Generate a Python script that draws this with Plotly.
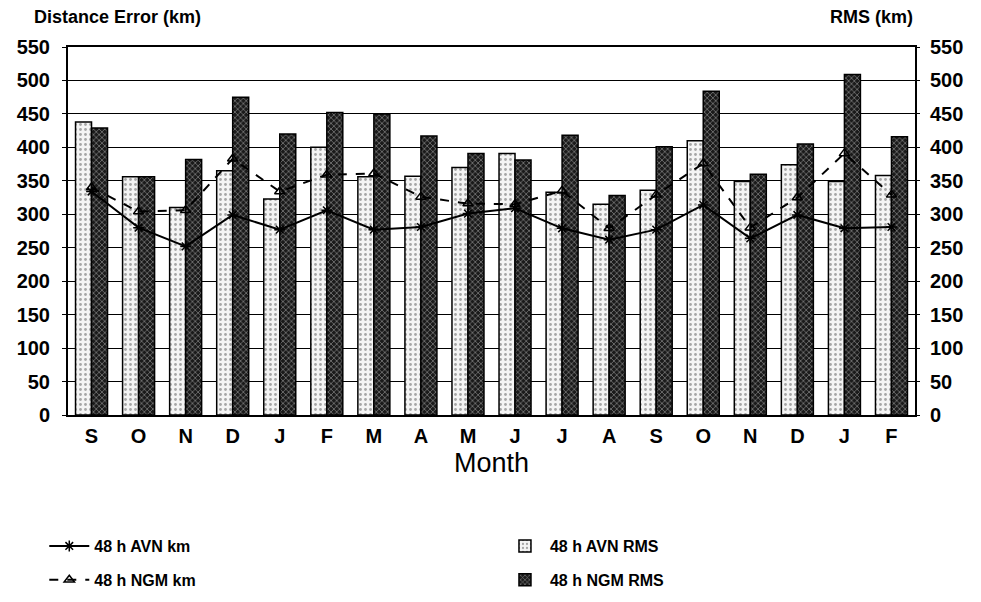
import plotly.graph_objects as go

months = ["S", "O", "N", "D", "J", "F", "M", "A", "M", "J", "J", "A", "S", "O", "N", "D", "J", "F"]
avn_rms = [438, 356, 310, 365, 323, 400, 356, 357, 370, 391, 333, 315, 336, 410, 349, 374, 349, 358]
ngm_rms = [429, 356, 382, 475, 420, 452, 450, 417, 391, 381, 418, 328, 401, 484, 360, 405, 509, 416]
avn_km = [334, 280, 252, 299, 277, 306, 277, 281, 301, 309, 279, 262, 277, 314, 264, 299, 279, 281]
ngm_km = [340, 304, 306, 383, 334, 359, 361, 326, 316, 315, 335, 279, 329, 376, 280, 325, 391, 329]
yticks = list(range(0, 551, 50))

x = list(range(len(months)))
FONT = "Liberation Sans"

fig = go.Figure()
fig.add_trace(go.Bar(
    x=x, y=avn_rms, name="<b>48 h AVN RMS</b>", legend="legend2", legendgroup="a2",
    marker=dict(color="white", line=dict(color="black", width=1.5),
                pattern=dict(shape=".", fgcolor="#555", bgcolor="#f4f4f4", size=5, solidity=0.25)),
))
fig.add_trace(go.Bar(
    x=x, y=ngm_rms, name="<b>48 h NGM RMS</b>", legend="legend2", legendgroup="b2",
    marker=dict(color="#222", line=dict(color="black", width=1.5),
                pattern=dict(shape="x", fgcolor="#dddddd", bgcolor="#1a1a1a", size=4, solidity=0.35)),
))
fig.add_trace(go.Scatter(
    x=x, y=avn_km, name="<b>48 h AVN km</b>", mode="lines+markers", yaxis="y2",
    legend="legend", legendgroup="a1",
    line=dict(color="black", width=2),
    marker=dict(symbol="asterisk-open", size=9, color="black", line=dict(width=1.5, color="black")),
))
fig.add_trace(go.Scatter(
    x=x, y=ngm_km, name="<b>48 h NGM km</b>", mode="lines+markers", yaxis="y2",
    legend="legend", legendgroup="b1",
    line=dict(color="black", width=2, dash="dash"),
    marker=dict(symbol="triangle-up-open", size=9, color="black", line=dict(width=1.5, color="black")),
))

axis_font = dict(family=FONT, size=20, color="black")
leg_common = dict(orientation="v", yanchor="top", y=-0.31, tracegroupgap=10,
                  font=dict(family=FONT, size=16, color="black"),
                  bgcolor="rgba(0,0,0,0)", itemwidth=40)
fig.update_layout(
    width=981, height=602,
    margin=dict(l=60, r=74, t=39, b=195, autoexpand=False),
    paper_bgcolor="white", plot_bgcolor="white",
    barmode="group", bargap=0.32, bargroupgap=0.0,
    font=dict(family=FONT, color="black"),
    xaxis=dict(
        tickvals=x, ticktext=["<b>%s</b>" % m for m in months],
        range=[-0.5, len(months) - 0.5], automargin=False,
        tickfont=axis_font, ticks="", showgrid=False, ticklabelstandoff=2,
        showline=True, linecolor="black", linewidth=2, mirror=True,
    ),
    yaxis=dict(
        range=[0, 550], tickvals=yticks, ticktext=["<b>%d</b>" % v for v in yticks],
        automargin=False,
        tickfont=axis_font, ticks="outside", ticklen=4, tickcolor="black", ticklabelstandoff=8,
        showgrid=True, gridcolor="black", gridwidth=1, zeroline=False,
        showline=True, linecolor="black", linewidth=2, mirror=True,
    ),
    yaxis2=dict(
        range=[0, 550], tickvals=yticks, ticktext=["<b>%d</b>" % v for v in yticks],
        automargin=False,
        tickfont=axis_font, ticks="outside", ticklen=4, tickcolor="black", ticklabelstandoff=6,
        overlaying="y", side="right", showgrid=False, zeroline=False,
    ),
    legend=dict(x=-0.028, xanchor="left", **leg_common),
    legend2=dict(x=0.51, xanchor="left", **leg_common),
    annotations=[
        dict(text="<b>Distance Error (km)</b>", xref="paper", yref="paper", x=-0.042, y=1.0,
             xanchor="left", yanchor="bottom", yshift=18, showarrow=False,
             font=dict(family=FONT, size=18, color="black")),
        dict(text="<b>RMS (km)</b>", xref="paper", yref="paper", x=1.0, y=1.0,
             xanchor="right", yanchor="bottom", yshift=18, showarrow=False,
             font=dict(family=FONT, size=18, color="black")),
        dict(text="Month", xref="paper", yref="paper", x=0.5, y=0.0,
             xanchor="center", yanchor="middle", yshift=-48, showarrow=False,
             font=dict(family=FONT, size=27, color="black")),
    ],
)

fig.write_html("out.html")
